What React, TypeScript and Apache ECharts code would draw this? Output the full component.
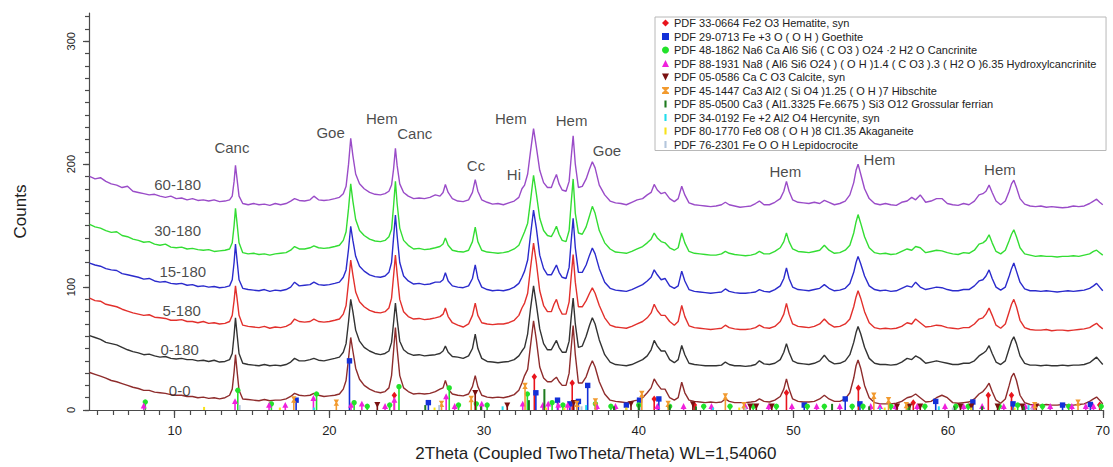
import React, { useEffect, useRef } from 'react';
import * as echarts from 'echarts';

// 2Theta grid (degrees)
const twoTheta = [
  4.5, 4.85, 5.2, 5.55, 5.9, 6.25, 6.6, 6.95, 7.3, 7.65, 8.0, 8.35, 8.7, 9.05, 9.4, 9.75, 10.1, 10.45, 10.8, 11.15, 11.5, 11.85, 12.2, 12.55, 12.9, 13.25, 13.55,
  13.72, 13.84, 13.93, 14.03, 14.16, 14.4,
  14.75, 15.1, 15.45, 15.8, 16.15, 16.5, 16.85, 17.2, 17.5, 17.75, 18.05, 18.4, 18.75, 19.0, 19.3, 19.65, 20.0, 20.35, 20.65, 20.9,
  21.08, 21.24, 21.38, 21.52, 21.7, 21.95, 22.25, 22.6, 22.95, 23.3, 23.6, 23.85,
  24.02, 24.15, 24.27, 24.38, 24.55, 24.8, 25.1, 25.45, 25.8, 26.15, 26.5, 26.85, 27.15,
  27.35, 27.5, 27.68, 27.95, 28.3, 28.65, 29.0, 29.25, 29.43, 29.6, 29.85, 30.2, 30.55, 30.9, 31.25, 31.6, 31.95, 32.25,
  32.45, 32.62, 32.82, 33.0, 33.2, 33.38, 33.6, 33.85, 34.1, 34.35, 34.52, 34.68, 34.85, 35.05, 35.3, 35.5, 35.63, 35.76, 35.9, 36.1, 36.35, 36.6, 36.82, 37.0, 37.18, 37.45, 37.8, 38.15,
  38.5, 38.85, 39.2, 39.55, 39.9, 40.25, 40.55, 40.8, 41.0, 41.2, 41.45, 41.7, 42.0, 42.3, 42.55, 42.78, 42.98, 43.25, 43.6, 43.95, 44.3, 44.65, 45.0, 45.35, 45.6, 45.85, 46.2, 46.55, 46.9, 47.25, 47.55, 47.8, 48.1, 48.45, 48.8,
  49.15, 49.38, 49.55, 49.72, 49.95, 50.3, 50.65, 51.0, 51.35, 51.7, 52.0, 52.3, 52.65, 53.0, 53.35, 53.65, 53.9, 54.05, 54.18, 54.35, 54.6,
  54.9, 55.25, 55.6, 55.95, 56.3, 56.65, 57.0, 57.35, 57.65, 57.9, 58.2, 58.55, 58.9, 59.25, 59.6, 59.95, 60.3, 60.65, 61.0, 61.35, 61.7, 62.0, 62.25, 62.45, 62.65, 62.85, 63.1, 63.4, 63.7, 63.95, 64.1, 64.25, 64.42, 64.65, 64.95, 65.3, 65.65, 66.0, 66.35, 66.7, 67.05, 67.4, 67.75, 68.1, 68.45, 68.8, 69.15, 69.4, 69.6, 69.8, 70.0,
];

const counts60_180 = [
  190, 188, 189, 186, 184, 183, 181, 182, 178, 177, 176, 175, 175.5, 174, 173, 174, 172, 172.5, 171, 172, 170.5, 171, 170, 171, 169.5, 170, 171,
  174, 186, 199, 188, 174, 168,
  167, 168, 167, 167.5, 166.5, 168, 167, 168, 170, 172, 170.5, 170, 171, 174, 171, 170.5, 171, 172, 173, 176,
  182, 200, 221, 207, 192, 184, 180, 177, 175.5, 175, 176, 178,
  183, 196, 213, 199, 184, 177, 174, 172, 172.5, 172, 173, 175, 174,
  177, 183.5, 177, 172, 170, 169.5, 171, 177, 187.5, 178, 171, 169, 167.5, 168, 167, 168.5, 170, 173,
  180, 183, 192, 210, 229, 214, 195, 185, 181, 181, 187, 191.6, 184, 179, 178, 186, 205, 223, 200, 181, 182, 188, 196, 202, 197, 183, 175, 170,
  168.5, 168, 167, 169, 171, 172, 175, 177, 183.5, 179, 176, 177, 172, 169.5, 172, 182, 175, 168.5, 167, 166.5, 166, 165.5, 166, 167, 169, 167, 166, 165, 165.5, 166, 168, 170, 167, 167, 169,
  172, 178, 186, 178, 171, 169, 168.5, 168, 169, 168, 170.5, 169, 167, 168, 170, 175, 185, 195, 200, 192, 180,
  172, 168, 167, 168, 167, 166.5, 169, 170, 173, 171, 175, 169, 170, 172, 172, 168, 167, 166.5, 168, 167, 170, 175, 176, 178, 183, 177, 170, 167, 170, 178, 184, 187, 181, 172, 167.5, 166, 165.5, 166, 165, 165.5, 165, 164.5, 165, 166, 165.5, 166, 168, 170, 171.5, 169, 167,
];

const counts30_180 = [
  151, 149, 148, 146, 144.5, 145, 142, 141, 139, 138, 136.5, 137, 135, 134, 135, 132.5, 132, 132.5, 131, 131.5, 130.5, 130, 130.5, 129, 129.5, 130, 131,
  136, 150, 164, 152, 136, 128,
  127, 127.5, 126.5, 127, 126, 127, 127.5, 128, 130, 133, 131, 131, 132, 133.5, 132, 131.5, 132, 133, 134, 138,
  145, 164, 184, 170, 155, 146, 142, 139, 137.5, 137, 138, 141,
  147, 166, 186, 168, 148, 138, 134, 131, 131.5, 130.5, 131, 132, 133,
  135, 140, 134, 130, 129, 128.5, 130, 137, 148.7, 137, 130, 128.5, 128, 127.5, 128, 129, 131, 134,
  140, 145, 152, 170, 191, 176, 156, 146, 142, 141, 145, 149.5, 143, 138, 137, 146, 168, 188, 160, 144, 143, 149, 158, 165.7, 160, 146, 136, 131,
  128.5, 128, 127.5, 129, 131, 133, 136, 139, 144, 140, 137, 136, 132, 130, 132, 144, 136, 129, 127.5, 127, 126.5, 126, 126, 127, 129, 127.5, 126.5, 126, 125.5, 126, 127, 129, 127, 127, 129,
  132, 137, 144, 137, 131, 129, 128.5, 128, 129, 130, 134, 130, 127.5, 128, 130, 134, 144, 153, 159, 152, 141,
  132, 128, 127, 127.5, 126.5, 127, 129, 131, 130, 133, 132, 128, 129, 130, 129.5, 128, 127, 126.5, 128, 127.5, 130, 135, 136, 138, 142.6, 136, 129, 127, 130, 138, 143, 146.6, 141, 132, 127, 126, 125, 125.5, 125, 125, 124.5, 125, 125, 125.5, 125, 126, 127, 129, 130, 128, 126,
];

const counts15_180 = [
  119.5, 118, 117, 115, 114, 113.5, 111, 110, 109, 108, 106.5, 107, 105, 104, 104.5, 103, 102.5, 103, 101.5, 102, 100.5, 101, 100, 100.5, 99.5, 100, 101,
  106, 120, 135, 122, 106, 99,
  98, 97.5, 97, 98, 96.5, 97.5, 97, 98, 100, 104, 101, 101.5, 102, 104, 102, 101.5, 102, 103, 104, 108,
  114, 131, 149.5, 138, 125, 117, 113, 110, 108.5, 108, 109, 112,
  120, 140, 158.7, 142, 120, 109, 105, 102.5, 103, 102, 102.5, 104, 104,
  106, 111.6, 105, 101, 100, 99.5, 101, 107, 118, 107, 100, 98, 97, 97.5, 97, 98, 100, 103,
  108, 113, 122, 142, 162.7, 148, 126, 115, 110, 110, 114, 118, 112, 108, 107, 116, 137, 156, 132, 112, 112, 118, 126, 131.8, 127, 115, 104, 99,
  97.5, 97, 96.5, 98, 100, 102, 105, 108, 114, 110, 106, 107, 101, 99, 101, 113, 105, 98, 96.5, 96, 95.5, 95, 95.5, 96, 98.5, 96.5, 95.5, 95, 95, 95.5, 96, 98, 96.5, 96, 98,
  101, 107, 115.6, 107, 100, 98, 97.5, 97, 98, 99, 102, 99, 97, 97.5, 99, 103, 112, 120, 125, 119, 109,
  101, 98, 97, 97.5, 96.5, 97, 99, 101, 100, 104, 100, 98, 99, 100, 99.5, 98, 97, 97, 98, 98, 101, 105, 106, 109, 114, 107, 100, 97.5, 100, 109, 115, 119.6, 113, 104, 98.5, 97, 97, 96.5, 97, 96.5, 96, 96.5, 97, 96.5, 97, 97.5, 99, 101, 103, 100, 97,
];

const counts5_180 = [
  91, 89, 88.5, 86, 85, 84, 82, 80.5, 79, 78, 77, 77.5, 75.5, 75, 74.5, 73, 73, 73.5, 72, 72, 71, 72, 70.5, 71, 70, 70.5, 72,
  77, 89, 101, 91, 77, 69,
  68, 67.5, 67, 68, 66.5, 67.5, 67, 68, 70, 74, 72, 71.5, 72, 74, 72, 71.5, 72, 73, 74, 78,
  85, 104, 122, 110, 96, 88, 84, 81, 79.5, 79, 80, 83,
  91, 109, 126, 111, 90, 80, 76, 74, 74.5, 73.5, 74, 75, 76,
  78, 83, 76, 71, 69, 67.5, 70, 77, 87, 77, 71, 70, 69.5, 70, 70, 71, 73, 77,
  83, 87, 95, 115, 135.8, 120, 97, 85, 80, 80, 86, 90, 83, 78, 78, 88, 108, 126.4, 104, 84, 84, 89, 95, 99.4, 95, 85, 75, 69,
  67.5, 67, 66.5, 68, 70, 72, 75, 79, 86, 81, 77, 77, 72, 69, 72, 85, 76, 68.5, 67, 66.5, 66, 65.5, 66, 66.5, 69, 67, 66, 65.5, 65.5, 66, 67, 69, 67, 66.5, 68,
  72, 78, 86.8, 78, 70, 68, 67.5, 67, 68, 70, 74, 70, 67.5, 68, 70, 74, 84, 92, 97, 91, 80,
  71, 67, 66, 66.5, 66, 66.5, 68, 71, 70, 74, 71, 67.5, 68, 69, 68.5, 67, 66.5, 66, 67, 67, 70, 74, 75, 78, 83, 77, 69, 66.5, 70, 80, 86, 90, 84, 73, 67, 65.5, 65, 65, 65.5, 64.5, 65, 65, 64.5, 65, 65.5, 66, 67, 69, 70.5, 68, 66,
];

const counts0_180 = [
  60.5, 59, 57.5, 55, 54, 53, 51, 49, 47.5, 46.5, 45, 45.5, 44, 43, 43.5, 42, 41.5, 42, 41, 41, 40, 40.5, 39.5, 40.5, 39, 39.5, 41,
  46, 61, 75, 62, 46, 38,
  37, 36.5, 36, 37, 36, 36.5, 36, 37, 39, 42, 40, 40, 41, 42, 40.5, 40, 41, 42, 43, 47,
  54, 72, 90, 80, 65, 56, 51, 48, 46, 45, 46, 48,
  55, 71, 87, 74, 56, 49, 46, 44.5, 45, 44, 44.5, 45, 46,
  48, 52, 47, 43.5, 43, 42, 44, 50, 61.7, 50, 42, 39.5, 39, 38.5, 39, 39.5, 41, 44,
  48, 51, 62, 82, 101, 86, 66, 54, 49, 49, 53, 56.6, 51, 47, 47, 56, 75, 91, 70, 51, 52, 60, 69, 75, 70, 57, 45, 39,
  37, 36.5, 36, 37, 39, 41, 44, 49, 56.6, 52, 48, 48, 41, 38.5, 41, 52.5, 45, 38, 37, 36.5, 36, 36, 36, 36.5, 39, 37, 36, 36, 35.5, 36, 37, 40, 37.5, 37, 38,
  41, 47, 54, 47, 40, 38, 37.5, 37, 38, 40, 44.5, 40, 37.5, 38, 40, 45, 55, 63, 68, 62, 51,
  42, 38, 37, 37, 36.5, 37, 39, 42, 41, 44, 42, 38, 39, 40, 39, 38, 37, 37, 38, 38, 40, 44, 46, 48, 52.3, 46, 39, 37, 40, 50, 56, 59.5, 54, 44, 38, 36.5, 36.5, 36, 36.5, 36, 36, 36.5, 36, 36.5, 36.5, 37, 38.5, 41, 43, 40, 37,
];

const counts0_0 = [
  30.5, 29, 27.5, 26, 24, 23, 21.5, 20, 18.5, 17.5, 16, 16, 14.5, 14, 13.5, 12.5, 12, 12, 11, 11, 10, 10.5, 9.5, 10, 9, 10, 12,
  17, 31, 45, 32, 16, 9,
  8.5, 8, 7.5, 8.5, 7.5, 8, 8, 9, 11, 13.5, 12, 11.5, 12, 13.5, 12, 11, 11.5, 12, 13, 17,
  24, 42, 59, 48, 34, 25, 20, 17, 15, 14, 15, 18,
  28, 48, 67, 50, 28, 18, 15, 13, 13.5, 13, 13.5, 15, 17,
  18, 24, 17, 13, 12, 11.5, 13, 19, 28, 19, 12, 10.5, 10, 10.5, 10, 11, 12.5, 16,
  22, 28, 33, 52, 72.6, 57, 35, 26, 23, 23, 25, 26.7, 23, 20, 20, 30, 50, 68.7, 45, 22, 22, 27, 35, 40, 35, 23, 13, 8,
  7, 6.5, 6, 7, 8, 10, 14, 18, 25.3, 21, 17, 17, 10, 8, 10, 22.6, 14, 8, 7, 6.5, 6, 6.5, 6, 6.5, 9, 7, 6, 6, 6, 6.5, 7, 9, 7, 6.5, 8,
  11, 17, 25.3, 17, 9, 7, 6.5, 6.5, 7, 9, 12, 9, 7, 7, 9, 14, 26, 36, 40.7, 34, 20,
  10, 6, 5, 5, 5, 5.5, 7, 10, 11, 13, 10, 6.5, 7, 10, 12, 10, 6, 5.5, 6, 6.5, 9, 13, 15, 18, 21.8, 15, 8, 5.5, 9, 20, 27, 30, 24, 12, 6, 4.5, 4, 4, 4.5, 4, 4, 4.5, 4, 4, 4.5, 5, 7, 9, 10.5, 8, 5,
];

const sampleNames = ['0-0', '0-180', '5-180', '15-180', '30-180', '60-180'];
const sampleCounts = [counts0_0, counts0_180, counts5_180, counts15_180, counts30_180, counts60_180];
const sampleColors = ['#8e2c2c', '#333333', '#e2302c', '#2b2bcc', '#33dd33', '#9a4cc8'];

// label anchors in data coordinates [2theta, counts, text]
const peakLabels: [number, number, string][] = [
  [13.7, 213.2, 'Canc'], [20.08, 225.5, 'Goe'], [23.39, 236.9, 'Hem'], [25.52, 224.7, 'Canc'],
  [29.48, 198.9, 'Cc'], [31.93, 191.8, 'Hi'], [31.73, 236.9, 'Hem'], [35.66, 235.5, 'Hem'],
  [37.95, 211.2, 'Goe'], [49.48, 194.3, 'Hem'], [55.56, 204.0, 'Hem'], [63.35, 195.9, 'Hem'],
];
const sampleLabels: [number, number, string][] = [
  [10.19, 183.5, '60-180'], [10.19, 145.8, '30-180'], [10.52, 112.4, '15-180'],
  [10.45, 80.8, '5-180'], [10.32, 49.3, '0-180'], [10.32, 16.2, '0-0'],
];

// reference stick patterns [2theta, height]
const hematiteSticks = [[24.2, 12], [33.25, 27], [35.7, 22], [41.0, 9], [43.6, 4], [49.55, 14], [54.2, 18], [57.75, 6], [62.6, 12], [64.1, 12], [69.8, 4]];
const goethiteSticks = [[17.85, 8], [21.3, 40], [26.4, 6], [33.35, 14], [34.75, 8], [35.55, 5], [36.1, 7], [36.7, 20], [39.2, 4], [40.05, 8], [41.3, 9], [50.7, 4], [53.35, 9], [54.3, 5], [59.2, 7], [61.6, 6.5], [64.2, 5], [67.4, 4], [69.2, 4.5]];
const cancriniteSticks = [[8.1, 6.5], [14.08, 16], [16.25, 5], [19.17, 13], [21.6, 6], [22.45, 3], [23.9, 4], [24.5, 19], [27.75, 18], [28.35, 4], [29.5, 5], [30.2, 4], [32.8, 13], [34.4, 6], [35.1, 4], [37.2, 5], [38.2, 3], [40.0, 4], [42.0, 3], [44.2, 3], [45.9, 3], [47.4, 3], [48.9, 3], [50.9, 3], [52.0, 3], [53.8, 3], [54.5, 3], [56.3, 3], [57.4, 3], [58.5, 3], [60.5, 3], [61.3, 3], [63.3, 3], [64.5, 4], [66.1, 3], [67.8, 3], [69.9, 3]];
const hydroxylcancriniteSticks = [[8.0, 3.5], [13.9, 7], [16.1, 4], [17.15, 4], [18.97, 9.5], [21.4, 4], [22.1, 5], [23.6, 3], [24.2, 8], [27.55, 11], [28.1, 3], [29.85, 5], [32.5, 5], [33.8, 4], [34.15, 5], [34.8, 4], [35.4, 4], [37.3, 3], [38.5, 3], [41.2, 3], [42.9, 3], [44.7, 3], [46.9, 3], [48.4, 3], [49.9, 3], [51.5, 3], [53.0, 3], [55.0, 3], [55.6, 3], [56.6, 3], [58.0, 3], [59.8, 3], [61.0, 3], [62.2, 3], [63.6, 3], [65.0, 3], [65.5, 3], [66.6, 3], [68.0, 3], [68.9, 3], [69.4, 3]];
const calciteSticks = [[23.1, 4.4], [29.43, 14], [31.5, 4], [35.8, 6], [39.5, 5], [43.5, 5], [47.2, 3], [47.6, 3], [48.6, 3], [56.7, 3], [57.5, 3], [58.2, 3], [60.8, 3], [61.5, 3], [63.2, 3], [64.8, 3], [65.7, 3]];
const hibschiteSticks = [[17.7, 8.5], [20.45, 6], [27.25, 5], [29.17, 9], [32.65, 19.6], [36.0, 5], [37.2, 7], [40.2, 13], [41.9, 5], [45.6, 11], [46.8, 4], [55.2, 11.6], [56.15, 8], [57.3, 4], [65.6, 4], [68.4, 6]];
const grossularSticks = [[26.2, 4], [29.8, 3], [32.9, 8], [33.9, 17], [38.4, 3], [40.0, 5], [42.0, 4], [43.7, 3], [52.5, 5], [54.9, 3], [57.5, 3], [60.4, 3], [62.2, 3], [64.9, 3]];
const hercyniteSticks = [[19.0, 2], [31.2, 3], [36.6, 4], [44.8, 2], [55.6, 2], [59.4, 3], [65.2, 4]];
const akaganeiteSticks = [[11.9, 2.5], [16.8, 2], [26.8, 2], [34.0, 2], [35.2, 2], [39.2, 2], [46.5, 2], [55.9, 2], [61.5, 2], [64.3, 2]];
const lepidocrociteSticks = [[14.2, 4], [27.1, 4], [36.3, 3], [46.9, 2], [60.3, 2], [65.4, 2]];

const phaseNames = [
  'PDF 33-0664 Fe2 O3 Hematite, syn',
  'PDF 29-0713 Fe +3 O ( O H ) Goethite',
  'PDF 48-1862 Na6 Ca Al6 Si6 ( C O3 ) O24 ·2 H2 O Cancrinite',
  'PDF 88-1931 Na8 ( Al6 Si6 O24 ) ( O H )1.4 ( C O3 ).3 ( H2 O )6.35 Hydroxylcancrinite',
  'PDF 05-0586 Ca C O3 Calcite, syn',
  'PDF 45-1447 Ca3 Al2 ( Si O4 )1.25 ( O H )7 Hibschite',
  'PDF 85-0500 Ca3 ( Al1.3325 Fe.6675 ) Si3 O12 Grossular ferrian',
  'PDF 34-0192 Fe +2 Al2 O4 Hercynite, syn',
  'PDF 80-1770 Fe8 O8 ( O H )8 Cl1.35 Akaganeite',
  'PDF 76-2301 Fe O O H Lepidocrocite',
];
const phaseSticks = [hematiteSticks, goethiteSticks, cancriniteSticks, hydroxylcancriniteSticks, calciteSticks, hibschiteSticks, grossularSticks, hercyniteSticks, akaganeiteSticks, lepidocrociteSticks];
const phaseColors = ['#e8141c', '#1330d8', '#22e22a', '#f020dc', '#7a1010', '#f29a2e', '#1e7a1e', '#22dcec', '#f7e21a', '#b4c6dc'];
const phaseShapes = ['diamond', 'square', 'circle', 'triangle', 'down', 'hourglass', 'bar', 'bar', 'bar', 'bar'];

const xLabelTicks = [10, 20, 30, 40, 50, 60, 70];
const yLabelTicks = [0, 100, 200, 300];
const xMinorTicks = Array.from({ length: 66 }, (_, i) => 5 + i);
const yMinorTicks = Array.from({ length: 33 }, (_, i) => i * 10);

const legendIcons: Record<string, string> = {
  diamond: 'diamond',
  square: 'rect',
  circle: 'circle',
  triangle: 'triangle',
  down: 'path://M0,0H8L4,8Z',
  hourglass: 'path://M0,0H8V1.5L5,4L8,6.5V8H0V6.5L3,4L0,1.5Z',
  bar: 'path://M0,0L0.01,0Z M8,8L7.99,8Z M2.8,0H5.2V8H2.8Z',
};

const FONT = '"Liberation Sans", Arial, sans-serif';

function stickRenderer(shape: string, color: string) {
  return (_params: any, api: any) => {
    const x = api.value(0);
    const h = api.value(1);
    const base = api.coord([x, 0]);
    const top = api.coord([x, h]);
    const cx = top[0];
    const cy = top[1];
    const children: any[] = [
      { type: 'line', shape: { x1: base[0], y1: base[1], x2: cx, y2: cy }, style: { stroke: color, lineWidth: shape === 'bar' ? 2 : 1.6 } },
    ];
    const s = 2.7;
    if (shape === 'diamond') {
      children.push({ type: 'polygon', shape: { points: [[cx, cy - s - 0.8], [cx + s, cy], [cx, cy + s + 0.8], [cx - s, cy]] }, style: { fill: color } });
    } else if (shape === 'square') {
      children.push({ type: 'rect', shape: { x: cx - s, y: cy - s, width: 2 * s, height: 2 * s }, style: { fill: color } });
    } else if (shape === 'circle') {
      children.push({ type: 'circle', shape: { cx, cy, r: s }, style: { fill: color } });
    } else if (shape === 'triangle') {
      children.push({ type: 'polygon', shape: { points: [[cx, cy - s - 0.5], [cx + s + 0.3, cy + s], [cx - s - 0.3, cy + s]] }, style: { fill: color } });
    } else if (shape === 'down') {
      children.push({ type: 'polygon', shape: { points: [[cx - s - 0.3, cy - s], [cx + s + 0.3, cy - s], [cx, cy + s + 0.5]] }, style: { fill: color } });
    } else if (shape === 'hourglass') {
      children.push({ type: 'polygon', shape: { points: [[cx - s, cy - s - 0.5], [cx + s, cy - s - 0.5], [cx + 0.8, cy], [cx + s, cy + s + 0.5], [cx - s, cy + s + 0.5], [cx - 0.8, cy]] }, style: { fill: color } });
    }
    return { type: 'group', children };
  };
}

export default function App() {
  const ref = useRef<HTMLDivElement>(null);
  useEffect(() => {
    if (!ref.current) return;
    const chart = echarts.init(ref.current, null, { renderer: 'svg' });

    const lineSeries = sampleNames.map((name, k) => ({
      name,
      type: 'line',
      xAxisIndex: 0,
      yAxisIndex: 0,
      data: twoTheta.map((x, i) => [x, sampleCounts[k][i]]),
      showSymbol: false,
      symbol: 'none',
      lineStyle: { color: sampleColors[k], width: 1.4 },
      itemStyle: { color: sampleColors[k] },
      z: 3 + k * 0.01,
      silent: true,
    }));

    const stickSeries = phaseNames.map((name, k) => ({
      name,
      type: 'custom',
      xAxisIndex: 0,
      yAxisIndex: 0,
      data: phaseSticks[k],
      itemStyle: { color: phaseColors[k] },
      renderItem: stickRenderer(phaseShapes[k], phaseColors[k]),
      z: 4,
      silent: true,
    }));

    const labelSeries = [peakLabels, sampleLabels].map((arr, k) => ({
      name: k === 0 ? 'peak-labels' : 'sample-labels',
      type: 'scatter',
      xAxisIndex: 0,
      yAxisIndex: 0,
      data: arr.map((d) => ({ value: [d[0], d[1]], name: d[2] })),
      symbolSize: 1,
      itemStyle: { color: 'rgba(0,0,0,0)' },
      label: {
        show: true,
        position: 'inside',
        formatter: (p: any) => p.name,
        fontFamily: FONT,
        fontSize: 15,
        color: '#1a1a1a',
      },
      z: 6,
      silent: true,
    }));

    const axisColor = '#4a4a4a';

    const option: any = {
      animation: false,
      backgroundColor: '#ffffff',
      textStyle: { fontFamily: FONT },
      grid: { left: 89, right: 4, top: 13, bottom: 54 },
      legend: {
        data: phaseNames.map((n, k) => ({ name: n, icon: legendIcons[phaseShapes[k]], itemStyle: { color: phaseColors[k] } })),
        orient: 'vertical',
        left: 655,
        top: 17,
        itemWidth: 7,
        itemHeight: 7,
        itemGap: 1.5,
        padding: [0, 9, 0, 7],
        backgroundColor: '#ffffff',
        borderColor: '#b8b8b8',
        borderWidth: 1,
        selectedMode: false,
        textStyle: { fontFamily: FONT, fontSize: 11, color: '#222', lineHeight: 12 },
      },
      xAxis: [
        {
          type: 'value', min: 4.46, max: 70, position: 'bottom',
          name: '2Theta (Coupled TwoTheta/Theta) WL=1,54060',
          nameLocation: 'middle', nameGap: 35,
          nameTextStyle: { fontFamily: FONT, fontSize: 17, color: '#222' },
          axisLine: { show: true, lineStyle: { color: axisColor, width: 1.2 } },
          axisTick: { show: true, customValues: xMinorTicks, length: 5, lineStyle: { color: axisColor, width: 1.2 } },
          axisLabel: { show: false },
          splitLine: { show: false },
        },
        {
          type: 'value', min: 4.46, max: 70, position: 'bottom',
          axisLine: { show: false },
          axisTick: { show: true, customValues: xLabelTicks, length: 8, lineStyle: { color: axisColor, width: 1.2 } },
          axisLabel: { show: true, customValues: xLabelTicks, fontFamily: FONT, fontSize: 13, color: '#222', margin: 14 },
          splitLine: { show: false },
        },
      ],
      yAxis: [
        {
          type: 'value', min: 0, max: 323, position: 'left',
          name: 'Counts', nameLocation: 'middle', nameGap: 60, nameRotate: 90,
          nameTextStyle: { fontFamily: FONT, fontSize: 17, color: '#222' },
          axisLine: { show: true, lineStyle: { color: axisColor, width: 1.2 } },
          axisTick: { show: true, customValues: yMinorTicks, length: 4, lineStyle: { color: axisColor, width: 1.2 } },
          axisLabel: { show: false },
          splitLine: { show: false },
        },
        {
          type: 'value', min: 0, max: 323, position: 'left',
          axisLine: { show: false },
          axisTick: { show: true, customValues: yLabelTicks, length: 6, lineStyle: { color: axisColor, width: 1.2 } },
          axisLabel: { show: true, customValues: yLabelTicks, rotate: 90, fontFamily: FONT, fontSize: 11, color: '#222', margin: 13 },
          splitLine: { show: false },
        },
      ],
      series: [...lineSeries, ...stickSeries, ...labelSeries],
    };

    chart.setOption(option);
    return () => chart.dispose();
  }, []);

  return <div ref={ref} style={{ position: 'fixed', left: 0, top: 0, width: 1113, height: 467, background: '#fff' }} />;
}
